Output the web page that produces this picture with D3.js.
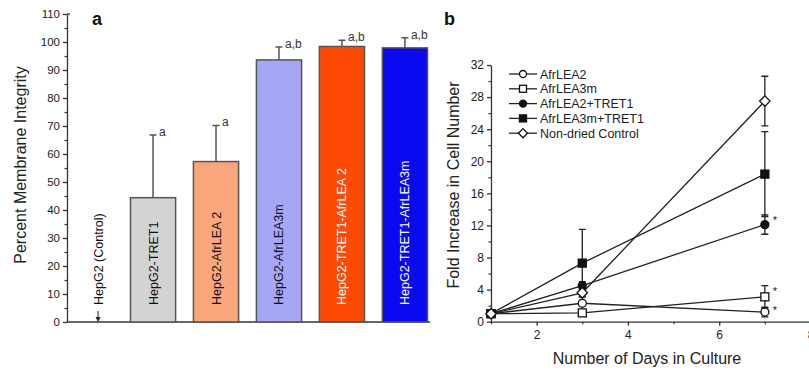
<!DOCTYPE html>
<html><head><meta charset="utf-8">
<script src="https://cdn.jsdelivr.net/npm/d3@7"></script>
<style>body{margin:0;background:#fff}svg{display:block;font-family:"Liberation Sans",Arial,sans-serif}</style>
</head><body><svg id="c" width="809" height="371"></svg>
<script>
// Panel a data
const barCats = ["HepG2 (Control)","HepG2-TRET1","HepG2-AfrLEA 2","HepG2-AfrLEA3m","HepG2-TRET1-AfrLEA 2","HepG2-TRET1-AfrLEA3m"];
const barVals = [0, 44.4, 57.3, 93.6, 98.4, 97.9];
const barErr  = [0, 22.4, 12.9, 4.6, 2.2, 3.6];
const barSig  = ["", "a", "a", "a,b", "a,b", "a,b"];
const barColors = ["#ffffff","#d3d3d3","#faa67c","#a6a6f6","#ff4a06","#0a0af0"];
const barTextColors = ["#111","#111","#111","#111","#fff","#fff"];
const yTicksA = [0,10,20,30,40,50,60,70,80,90,100,110];

// Panel b data
const days = [1, 3, 7];
const seriesNames = ["AfrLEA2","AfrLEA3m","AfrLEA2+TRET1","AfrLEA3m+TRET1","Non-dried Control"];
const seriesShapes = ["circle","square","circle","square","diamond"];
const seriesFilled = [false,false,true,true,false];
const sAfrLEA2     = [1, 2.3, 1.2];
const sAfrLEA3m    = [1, 1.1, 3.1];
const sAfrLEA2T    = [1, 4.5, 12.1];
const sAfrLEA3mT   = [1, 7.3, 18.4];
const sControl     = [1, 3.6, 27.5];
const eAfrLEA2     = [0, 0.3, 0.6];
const eAfrLEA3m    = [0, 0.2, 1.4];
const eAfrLEA2T    = [0, 0.5, 1.2];
const eAfrLEA3mT   = [0, 4.2, 5.3];
const eControl     = [0, 0.5, 3.1];
const sigB = ["*","*","*","",""];
const yTicksB = [0,4,8,12,16,20,24,28,32];
const xTicksB = [2,4,6,8];

const seriesVals = [sAfrLEA2,sAfrLEA3m,sAfrLEA2T,sAfrLEA3mT,sControl];
const seriesErrs = [eAfrLEA2,eAfrLEA3m,eAfrLEA2T,eAfrLEA3mT,eControl];

const svg = d3.select("#c");
const ink = "#333";

// ---------- Panel a ----------
const ya = d3.scaleLinear().domain([0,110]).range([322,14]);
const xa = d3.scaleBand().domain(barCats).range([67.5, 427.5]).paddingInner(0.283).paddingOuter(0);
const ga = svg.append("g");

// y axis
ga.append("g").attr("transform","translate(67,0)")
  .call(d3.axisLeft(ya).tickValues(yTicksA).tickSize(4).tickSizeOuter(0))
  .call(g=>{g.selectAll("text").attr("font-size",11.5).attr("fill","#222").attr("x",-7);g.selectAll("line,path").attr("stroke",ink).attr("stroke-width",1.3);});
ga.append("g").attr("transform","translate(67,0)")
  .call(d3.axisLeft(ya).tickValues(d3.range(5,110,10)).tickSize(2.5).tickFormat(""))
  .call(g=>{g.select(".domain").remove();g.selectAll("line").attr("stroke",ink).attr("stroke-width",1.2);});
ga.append("line").attr("x1",67).attr("x2",70).attr("y1",ya(110)).attr("y2",ya(110)).attr("stroke",ink).attr("stroke-width",1.3);
// baseline
ga.append("line").attr("x1",67).attr("x2",430).attr("y1",ya(0)).attr("y2",ya(0)).attr("stroke",ink).attr("stroke-width",1.5);

const bars = barCats.map((c,i)=>({c,v:barVals[i],e:barErr[i],s:barSig[i],col:barColors[i],tc:barTextColors[i],i}));
const barData = bars.filter(d=>d.i>0);
ga.selectAll("rect.bar").data(barData).join("rect").attr("class","bar")
  .attr("x",d=>xa(d.c)).attr("width",xa.bandwidth())
  .attr("y",d=>ya(d.v)).attr("height",d=>ya(0)-ya(d.v))
  .attr("fill",d=>d.col).attr("stroke","#555").attr("stroke-width",1.5);
// error bars (upper)
ga.selectAll("path.err").data(barData).join("path").attr("class","err")
  .attr("d",d=>{const cx=xa(d.c)+xa.bandwidth()/2;const t=ya(d.v+d.e);return `M${cx},${ya(d.v)}V${t}M${cx-3.5},${t}H${cx+3.5}`;})
  .attr("stroke","#555").attr("stroke-width",1.5).attr("fill","none");
ga.selectAll("text.sig").data(barData).join("text").attr("class","sig")
  .attr("x",d=>xa(d.c)+xa.bandwidth()/2+6).attr("y",d=>ya(d.v+d.e)+1)
  .attr("font-size",12).attr("fill","#333").text(d=>d.s);
// labels in bars
ga.selectAll("text.bl").data(bars).join("text").attr("class","bl")
  .attr("transform",d=>`translate(${xa(d.c)+xa.bandwidth()/2+(d.i===0?8:0)+4.5},${ya(0)-17}) rotate(-90)`)
  .attr("font-size",12.5).attr("fill",d=>d.tc).text(d=>d.c);
// control arrow
const cx0 = xa(barCats[0])+xa.bandwidth()/2+8;
ga.append("line").attr("x1",cx0).attr("x2",cx0).attr("y1",ya(0)-11).attr("y2",ya(0)-2).attr("stroke","#222").attr("stroke-width",1);
ga.append("path").attr("d",`M${cx0-2.5},${ya(0)-5}L${cx0+2.5},${ya(0)-5}L${cx0},${ya(0)}Z`).attr("fill","#222");
// titles
ga.append("text").attr("transform","translate(26,165) rotate(-90)").attr("text-anchor","middle")
  .attr("font-size",16).attr("fill","#222").text("Percent Membrane Integrity");
ga.append("text").attr("x",92).attr("y",25).attr("font-size",18).attr("font-weight","bold").attr("fill","#111").text("a");

// ---------- Panel b ----------
const xb = d3.scaleLinear().domain([1,8]).range([491,810.5]);
const yb = d3.scaleLinear().domain([0,32]).range([321.7,65]);
const gb = svg.append("g");
gb.append("g").attr("transform","translate(491,0)")
  .call(d3.axisLeft(yb).tickValues(yTicksB).tickSize(4).tickSizeOuter(0))
  .call(g=>{g.selectAll("text").attr("font-size",12).attr("fill","#222").attr("x",-7);g.selectAll("line,path").attr("stroke",ink).attr("stroke-width",1.3);});
gb.append("g").attr("transform","translate(491,0)")
  .call(d3.axisLeft(yb).tickValues(d3.range(2,32,4)).tickSize(2.5).tickFormat(""))
  .call(g=>{g.select(".domain").remove();g.selectAll("line").attr("stroke",ink).attr("stroke-width",1.2);});
gb.append("g").attr("transform","translate(0,321.7)")
  .call(d3.axisBottom(xb).tickValues(xTicksB).tickSize(4).tickSizeOuter(0).tickFormat(d3.format("d")))
  .call(g=>{g.selectAll("text").attr("font-size",12).attr("fill","#222").attr("y",9);g.selectAll("line,path").attr("stroke",ink).attr("stroke-width",1.3);});
gb.append("g").attr("transform","translate(0,321.7)")
  .call(d3.axisBottom(xb).tickValues([1,3,5,7]).tickSize(2.5).tickFormat(""))
  .call(g=>{g.select(".domain").remove();g.selectAll("line").attr("stroke",ink).attr("stroke-width",1.2);});

function marker(sel, shape, filled, size){
  const fill = filled ? "#111" : "#fff";
  if(shape==="circle") sel.append("circle").attr("r",size/2);
  else if(shape==="square") sel.append("rect").attr("x",-size/2).attr("y",-size/2).attr("width",size).attr("height",size);
  else sel.append("path").attr("d",`M0,${-size*0.65}L${size*0.65},0L0,${size*0.65}L${-size*0.65},0Z`);
  sel.selectAll("*").attr("fill",fill).attr("stroke","#111").attr("stroke-width",1.3);
}
const line = d3.line().x((d,i)=>xb(days[i])).y(d=>yb(d));
seriesNames.forEach((name,k)=>{
  const vals = seriesVals[k], errs = seriesErrs[k];
  const g = gb.append("g");
  g.append("path").attr("d",line(vals)).attr("fill","none").attr("stroke","#222").attr("stroke-width",1.3);
  vals.forEach((v,i)=>{
    if(errs[i]>0){
      const x=xb(days[i]), t=yb(v+errs[i]), b=yb(Math.max(0,v-errs[i]));
      g.append("path").attr("d",`M${x},${t}V${b}M${x-3.5},${t}H${x+3.5}M${x-3.5},${b}H${x+3.5}`)
        .attr("stroke","#222").attr("stroke-width",1.3).attr("fill","none");
    }
  });
});
seriesNames.forEach((name,k)=>{
  const vals = seriesVals[k];
  vals.forEach((v,i)=>{
    const m = gb.append("g").attr("transform",`translate(${xb(days[i])},${yb(v)})`);
    marker(m, seriesShapes[k], seriesFilled[k], 8);
  });
  if(sigB[k]) gb.append("text").attr("x",xb(7)+8).attr("y",yb(vals[2]+seriesErrs[k][2]*0.6)+5)
    .attr("font-size",11).attr("fill","#222").text(sigB[k]);
});
// legend
const lg = gb.append("g").attr("transform","translate(509,74)");
seriesNames.forEach((name,k)=>{
  const r = lg.append("g").attr("transform",`translate(0,${k*14.8})`);
  r.append("line").attr("x1",0).attr("x2",28).attr("stroke","#222").attr("stroke-width",1.3);
  marker(r.append("g").attr("transform","translate(14,0)"), seriesShapes[k], seriesFilled[k], 7);
  r.append("text").attr("x",31).attr("y",4.5).attr("font-size",12.5).attr("fill","#222").text(name);
});
// titles
gb.append("text").attr("transform","translate(459,185) rotate(-90)").attr("text-anchor","middle")
  .attr("font-size",16).attr("fill","#222").text("Fold Increase in Cell Number");
gb.append("text").attr("x",647).attr("y",364).attr("text-anchor","middle")
  .attr("font-size",16).attr("fill","#222").text("Number of Days in Culture");
gb.append("text").attr("x",444).attr("y",25).attr("font-size",18).attr("font-weight","bold").attr("fill","#111").text("b");
</script></body></html>
